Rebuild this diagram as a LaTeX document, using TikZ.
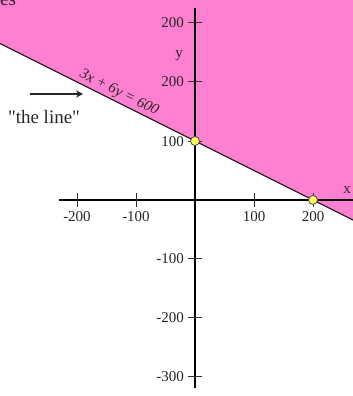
\documentclass[tikz,border=0pt]{standalone}
\usepackage{fontspec}
\setmainfont{Liberation Serif}
\usetikzlibrary{arrows.meta}
\definecolor{pinkfill}{RGB}{255,128,208}
\definecolor{dotyellow}{RGB}{255,255,90}
\begin{document}
\begin{tikzpicture}[x=1pt,y=-1pt,
  axis/.style={line width=1.3pt, black},
  tickmark/.style={line width=0.9pt, black!80},
  lbl/.style={font=\fontsize{15}{15}\selectfont, inner sep=0pt, text=black!85},
  ptdot/.style={circle, fill=dotyellow, draw=black!70, line width=0.8pt, minimum size=9pt, inner sep=0pt}]
\useasboundingbox (0,0) rectangle (353,396);
% half-plane
\coordinate (L1) at (0,43.5);
\coordinate (L2) at (353,220);
\fill[pinkfill] (0,0) -- (L1) -- (L2) -- (353,0) -- cycle;
\draw[line width=1.2pt, black!85] (L1) -- (L2);
% axes
\coordinate (xs) at (59,200);
\coordinate (xe) at (353,200);
\coordinate (ys) at (195,8);
\coordinate (ye) at (195,388);
\draw[axis] (xs) -- (xe);
\draw[axis] (ys) -- (ye);
% x ticks
\foreach \px/\t in {77/-200,136/-100,254/100,313/200}{
  \draw[tickmark] (\px,193) -- (\px,207);
  \node[lbl, anchor=base] (xl\t) at (\px,221) {\t};
}
% y ticks
\foreach \py/\t/\n in {22/200/a,81/200/b,141/100/c,258/-100/d,317/-200/e,376/-300/f}{
  \draw[tickmark] (188,\py) -- (202,\py);
  \node[lbl, anchor=base east] (yl\n) at (184,\py+5.5) {\t};
}
% axis names
\node[lbl, anchor=base] (ylab) at (179,57) {y};
\node[lbl, anchor=base] (xlab) at (347,193) {x};
% line label
\node[font=\fontsize{15}{15}\selectfont\itshape, inner sep=0pt, rotate=-26.57, text=black!85] (eq) at (119,93) {3x + 6y = 600};
% "the line"
\node[font=\fontsize{19}{19}\selectfont, inner sep=0pt, text=black!85] (tl) at (44,117) {\textquotedbl the line\textquotedbl};
\coordinate (a1) at (30,94);
\coordinate (a2) at (83,94);
\draw[line width=1.6pt, black!85, -{Stealth[length=7pt,width=7pt]}] (a1) -- (a2);
% cut-off title fragment
\node[font=\fontsize{19}{19}\selectfont, inner sep=0pt, anchor=base west, text=black!85] (ttl) at (0,6) {es};
% intercept points
\node[ptdot] (pA) at (195,141) {};
\node[ptdot] (pB) at (313,200) {};
\end{tikzpicture}
\end{document}
